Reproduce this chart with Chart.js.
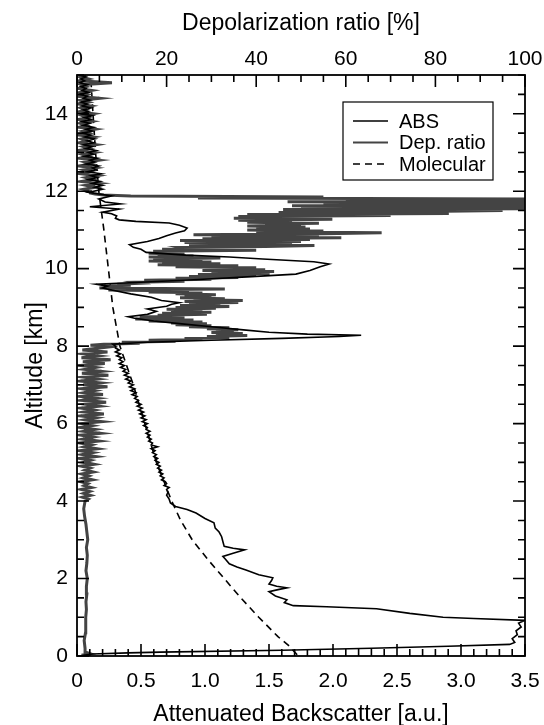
<!DOCTYPE html>
<html>
<head>
<meta charset="utf-8">
<script src="https://cdn.jsdelivr.net/npm/chart.js@4.4.1/dist/chart.umd.min.js"></script>
<style>
  html, body { margin: 0; padding: 0; background: #fff; }
  canvas { display: block; }
</style>
</head>
<body>
<canvas id="profile" width="544" height="725"></canvas>
<script>
// tick labels
const altTicks = [0, 2, 4, 6, 8, 10, 12, 14];
const absTicks = [0, 0.5, 1.0, 1.5, 2.0, 2.5, 3.0, 3.5];
const depTicks = [0, 20, 40, 60, 80, 100];

// attenuated backscatter (bottom axis) vs altitude [km]
const absAlt = [
  0.02, 0.05, 0.08, 0.10, 0.15, 0.20, 0.25, 0.30, 0.35, 0.45, 0.55, 0.65, 0.75, 0.85, 0.92,
  0.97, 1.00, 1.10, 1.22, 1.27, 1.30, 1.38, 1.45, 1.55, 1.66, 1.72, 1.76, 1.80, 1.86, 1.95,
  2.02, 2.10, 2.22, 2.30, 2.38, 2.50, 2.57, 2.65, 2.74, 2.78, 2.83, 2.95, 3.08, 3.20, 3.30,
  3.44, 3.55, 3.69, 3.78, 3.86, 3.95, 4.05, 4.15, 4.22,
  4.30, 4.35, 4.40, 4.45, 4.50, 4.55, 4.60, 4.65, 4.70, 4.75, 4.80, 4.85, 4.90, 4.95,
  5.00, 5.05, 5.10, 5.15, 5.20, 5.25, 5.30, 5.35, 5.40, 5.45, 5.50, 5.55, 5.60, 5.65,
  5.70, 5.75, 5.80, 5.85, 5.90, 5.95, 6.00, 6.05, 6.10, 6.15, 6.20, 6.25, 6.30, 6.35,
  6.40, 6.45, 6.50, 6.55, 6.60, 6.65, 6.70, 6.75, 6.80, 6.85, 6.90, 6.95, 7.00, 7.05,
  7.10, 7.15, 7.20, 7.25, 7.30, 7.35, 7.40, 7.45, 7.50, 7.55, 7.60, 7.65, 7.70, 7.75,
  7.80, 7.85, 7.90, 7.95, 8.00, 8.05,
  8.10, 8.15, 8.20, 8.25, 8.28, 8.31, 8.36, 8.42, 8.50, 8.58, 8.65, 8.72, 8.76, 8.82,
  8.90, 8.96, 9.03, 9.08, 9.12, 9.18, 9.26, 9.35, 9.45, 9.50, 9.55, 9.60, 9.65, 9.72,
  9.80, 9.86, 9.95, 10.05, 10.12, 10.18, 10.25, 10.30, 10.35, 10.42, 10.50, 10.55, 10.62,
  10.70, 10.78, 10.85, 10.92, 10.98, 11.05, 11.12, 11.18, 11.22, 11.26, 11.30, 11.36,
  11.42, 11.46, 11.54, 11.60, 11.67, 11.72, 11.80, 11.88, 11.97,
  12.05, 12.10, 12.15, 12.20, 12.25, 12.30, 12.35, 12.40, 12.45, 12.50, 12.55, 12.60,
  12.65, 12.70, 12.75, 12.80, 12.85, 12.90, 12.95, 13.00, 13.05, 13.10, 13.15, 13.20,
  13.25, 13.30, 13.35, 13.40, 13.45, 13.50, 13.55, 13.60, 13.65, 13.70, 13.75, 13.80,
  13.85, 13.90, 13.95, 14.00, 14.05, 14.10, 14.15, 14.20, 14.25, 14.30, 14.35, 14.40,
  14.45, 14.50, 14.55, 14.60, 14.65, 14.70, 14.75, 14.80, 14.85, 14.90, 14.95, 15.00
];
const absVal = [
  0.05, 0.12, 0.40, 0.65, 1.60, 2.30, 2.90, 3.38, 3.42, 3.40, 3.44, 3.43, 3.47, 3.45, 3.50,
  3.10, 2.86, 2.60, 2.34, 1.95, 1.69, 1.62, 1.64, 1.55, 1.50, 1.58, 1.64, 1.56, 1.50, 1.52,
  1.53, 1.42, 1.32, 1.25, 1.19, 1.16, 1.14, 1.22, 1.31, 1.22, 1.15, 1.14, 1.13, 1.11, 1.08,
  1.07, 1.00, 0.93, 0.86, 0.77, 0.73, 0.72, 0.70, 0.71,
  0.70, 0.72, 0.68, 0.70, 0.69, 0.66, 0.68, 0.65, 0.67, 0.64, 0.66, 0.63, 0.65, 0.62,
  0.64, 0.61, 0.63, 0.60, 0.62, 0.59, 0.61, 0.58, 0.63, 0.58, 0.59, 0.56, 0.58, 0.55,
  0.57, 0.54, 0.57, 0.54, 0.55, 0.52, 0.55, 0.51, 0.54, 0.50, 0.53, 0.49, 0.52, 0.48,
  0.51, 0.47, 0.50, 0.46, 0.48, 0.45, 0.47, 0.43, 0.46, 0.42, 0.45, 0.41, 0.44, 0.40,
  0.42, 0.38, 0.41, 0.37, 0.40, 0.36, 0.38, 0.34, 0.37, 0.33, 0.36, 0.33, 0.35, 0.31,
  0.34, 0.30, 0.33, 0.30, 0.30, 0.28,
  0.55, 1.05, 1.60, 2.05, 2.22, 1.80, 1.50, 1.30, 1.05, 0.80, 0.60, 0.45, 0.40, 0.55,
  0.62, 0.55, 0.70, 0.74, 0.80, 0.66, 0.58, 0.42, 0.27, 0.20, 0.24, 0.15, 0.50, 0.95,
  1.40, 1.71, 1.82, 1.90, 1.97, 1.85, 1.45, 1.19, 0.85, 0.54, 0.50, 0.44, 0.41,
  0.55, 0.64, 0.70, 0.77, 0.84, 0.86, 0.80, 0.72, 0.46, 0.33, 0.30, 0.31,
  0.27, 0.20, 0.33, 0.10, 0.34, 0.22, 0.17, 0.27, 0.09,
  0.20, 0.14, 0.20, 0.12, 0.18, 0.09, 0.16, 0.11, 0.19, 0.08, 0.15, 0.12, 0.17,
  0.07, 0.14, 0.10, 0.16, 0.06, 0.13, 0.09, 0.15, 0.07, 0.12, 0.05, 0.13,
  0.08, 0.14, 0.06, 0.11, 0.04, 0.12, 0.07, 0.13, 0.05, 0.10, 0.04, 0.11,
  0.06, 0.12, 0.03, 0.09, 0.05, 0.11, 0.04, 0.08, 0.03, 0.10, 0.05, 0.08,
  0.02, 0.09, 0.04, 0.07, 0.03, 0.08, 0.02, 0.06, 0.03, 0.07, 0.02, 0.05
];

// depolarization ratio [%] (top axis) vs altitude [km]
const depAlt = [
  0.02, 0.06, 0.10, 0.20, 0.40, 0.60, 0.80, 1.00, 1.20, 1.40, 1.60, 1.80, 2.00, 2.20,
  2.40, 2.60, 2.80, 3.00, 3.20, 3.40, 3.60, 3.80, 4.00,
  4.05, 4.10, 4.15, 4.20, 4.25, 4.30, 4.35, 4.40, 4.45, 4.50, 4.55, 4.60, 4.65, 4.70,
  4.75, 4.80, 4.85, 4.90, 4.95, 5.00, 5.05, 5.10, 5.15, 5.20, 5.25, 5.30, 5.35, 5.40,
  5.45, 5.50, 5.55, 5.60, 5.65, 5.70, 5.75, 5.80, 5.85, 5.90, 5.95, 6.00, 6.05, 6.10,
  6.15, 6.20, 6.25, 6.30, 6.35, 6.40, 6.45, 6.50, 6.55, 6.60, 6.65, 6.70, 6.75, 6.80,
  6.85, 6.90, 6.95, 7.00, 7.05, 7.10, 7.15, 7.20, 7.25, 7.30, 7.35, 7.40, 7.45, 7.50,
  7.55, 7.60, 7.65, 7.70, 7.75, 7.80, 7.85, 7.90, 7.95, 8.00, 8.025,
  8.050, 8.075, 8.100, 8.125, 8.150, 8.175, 8.200, 8.225, 8.250, 8.275, 8.300, 8.325,
  8.350, 8.375, 8.400, 8.425, 8.450, 8.475, 8.500, 8.525, 8.550, 8.575, 8.600, 8.625,
  8.650, 8.675, 8.700, 8.725, 8.750, 8.775, 8.800, 8.825, 8.850, 8.875, 8.900, 8.925,
  8.950, 8.975, 9.000, 9.025, 9.050, 9.075, 9.100, 9.125, 9.150, 9.175, 9.200, 9.225,
  9.250, 9.275, 9.300, 9.325, 9.350, 9.375, 9.400, 9.425, 9.450, 9.475, 9.500, 9.525,
  9.550, 9.575, 9.600, 9.625, 9.650, 9.675, 9.700, 9.725, 9.750, 9.775, 9.800, 9.825,
  9.850, 9.875, 9.900, 9.925, 9.950, 9.975, 10.000, 10.025, 10.050, 10.075, 10.100, 10.125,
  10.150, 10.175, 10.200, 10.225, 10.250, 10.275, 10.300, 10.325, 10.350, 10.375, 10.400, 10.425,
  10.450, 10.475, 10.500, 10.525, 10.550, 10.575, 10.600, 10.625, 10.650, 10.675, 10.700, 10.725,
  10.750, 10.775, 10.800, 10.825, 10.850, 10.875, 10.900, 10.925, 10.950, 10.975, 11.000, 11.025,
  11.050, 11.075, 11.100, 11.125, 11.150, 11.175, 11.200, 11.225, 11.250, 11.275, 11.300, 11.325,
  11.350, 11.375, 11.400, 11.425, 11.450, 11.475, 11.500, 11.525, 11.550, 11.575, 11.600, 11.625,
  11.650, 11.675, 11.700, 11.725, 11.750, 11.775, 11.800, 11.825, 11.850, 11.875, 11.900, 11.925,
  11.950,
  12.00, 12.05, 12.10, 12.15, 12.20, 12.25, 12.30, 12.35, 12.40, 12.45, 12.50, 12.55,
  12.60, 12.65, 12.70, 12.75, 12.80, 12.85, 12.90, 12.95, 13.00, 13.05, 13.10, 13.15,
  13.20, 13.25, 13.30, 13.35, 13.40, 13.45, 13.50, 13.55, 13.60, 13.65, 13.70, 13.75,
  13.80, 13.85, 13.90, 13.95, 14.00, 14.05, 14.10, 14.15, 14.20, 14.25, 14.30, 14.35,
  14.40, 14.45, 14.50, 14.55, 14.60, 14.65, 14.70, 14.75, 14.80, 14.85, 14.90, 14.95, 15.00
];
const depVal = [
  1.0, 3.0, 2.0, 1.8, 1.6, 1.9, 2.0, 1.9, 2.1, 2.0, 2.2, 2.1, 2.3, 2.0,
  2.2, 2.3, 2.1, 2.4, 2.2, 2.0, 1.7, 1.5, 1.8,
  2.5, 1.2, 3.0, 1.5, 2.8, 1.0, 3.2, 1.6, 2.4, 0.8, 3.4, 1.4, 2.6, 1.0,
  3.6, 1.8, 2.9, 0.9, 3.8, 1.5, 3.0, 0.7, 4.2, 1.2, 3.5, 0.8, 4.5, 1.6,
  3.2, 0.6, 4.8, 1.3, 3.6, 0.9, 5.2, 1.5, 4.0, 0.7, 3.4, 1.2, 5.6, 1.8,
  4.2, 0.8, 6.0, 1.5, 3.8, 1.0, 5.0, 2.0, 6.5, 1.2, 4.5, 0.9, 5.8, 1.6,
  3.9, 1.0, 6.8, 1.4, 5.2, 0.8, 4.6, 1.5, 7.0, 1.1, 5.5, 1.8, 4.2, 0.9,
  6.2, 1.3, 7.5, 1.0, 4.8, 1.6, 6.8, 1.2, 5.0, 9.0, 3.0,
  6, 14, 10, 22, 16, 28, 24, 34, 29, 38, 31, 37,
  30, 35, 31, 36, 29, 34, 25, 30, 22, 29, 21, 28,
  16, 26, 13, 24, 14, 22, 18, 29, 19, 30, 21, 28,
  20, 31, 22, 34, 23, 32, 25, 36, 24, 37, 26, 33,
  23, 30, 24, 31, 22, 28, 16, 25, 7, 33, 5, 8,
  6, 12, 9, 14, 13, 24, 15, 30, 22, 36, 25, 40,
  27, 43, 30, 44, 28, 42, 33, 40, 22, 36, 18, 32,
  19, 30, 16, 28, 17, 32, 16, 26, 18, 24, 16, 22,
  17, 40, 19, 24, 23, 42, 53, 25, 48, 24, 50, 23,
  52, 28, 59, 30, 54, 26, 55, 68, 40, 55, 38, 52,
  40, 51, 38, 50, 42, 54, 38, 48, 36, 57, 35, 52,
  36, 70, 38, 83, 45, 78, 95, 46, 100, 50, 100, 48,
  100, 55, 100, 47, 100, 60, 100, 27, 55, 12, 6, 4,
  3,
  3.0, 1.5, 4.0, 2.0, 5.0, 1.0, 3.5, 2.0, 4.5, 0.8, 3.0, 1.5,
  4.0, 0.5, 3.2, 1.8, 4.8, 0.6, 2.5, 1.2, 3.8, 0.4, 2.8, 1.5,
  4.2, 0.5, 2.2, 1.0, 3.5, 0.3, 2.6, 1.4, 4.0, 0.5, 2.0, 0.8,
  3.2, 0.3, 2.4, 1.2, 3.6, 0.4, 2.0, 0.9, 3.0, 0.3, 2.5, 1.0,
  5.0, 0.4, 2.2, 0.8, 3.2, 0.3, 2.0, 1.0, 7.8, 0.5, 2.5, 0.8, 2.0
];

// molecular backscatter (bottom axis)
const molAlt = [0.03, 0.25, 0.5, 1.0, 1.5, 2.0, 2.5, 3.0, 3.5, 4.0, 5.0, 6.0, 7.0, 8.0,
  9.0, 10.0, 11.0, 12.0, 13.0, 14.0, 14.8];
const molVal = [1.72, 1.66, 1.57, 1.42, 1.28, 1.15, 1.02, 0.90, 0.81, 0.74, 0.62, 0.53,
  0.44, 0.335, 0.28, 0.245, 0.21, 0.17, 0.145, 0.125, 0.11];

const FONT = "'Liberation Sans', Arial, sans-serif";

function pts(alt, val) {
  return alt.map((a, i) => ({ x: val[i], y: a }));
}

// inward ticks on all four sides + frame
const frameTicks = {
  id: 'frameTicks',
  afterDraw(chart) {
    const c = chart.ctx;
    const a = chart.chartArea;
    const sx = chart.scales.x, sx2 = chart.scales.x2, sy = chart.scales.y;
    c.save();
    c.strokeStyle = '#000';
    c.lineWidth = 1.6;
    c.beginPath();
    // y, left and right
    for (let k = 0; k <= 30; k++) {
      const y = sy.getPixelForValue(k * 0.5);
      const len = (k % 4 === 0) ? 12 : 7;
      c.moveTo(a.left, y); c.lineTo(a.left + len, y);
      c.moveTo(a.right, y); c.lineTo(a.right - len, y);
    }
    // bottom axis
    for (let k = 0; k <= 35; k++) {
      const x = sx.getPixelForValue(k * 0.1);
      const len = (k % 5 === 0) ? 12 : 7;
      c.moveTo(x, a.bottom); c.lineTo(x, a.bottom - len);
    }
    // top axis
    for (let k = 0; k <= 20; k++) {
      const x = sx2.getPixelForValue(k * 5);
      const len = (k % 4 === 0) ? 12 : 7;
      c.moveTo(x, a.top); c.lineTo(x, a.top + len);
    }
    c.stroke();
    c.lineWidth = 1.8;
    c.strokeRect(a.left, a.top, a.right - a.left, a.bottom - a.top);
    c.restore();
  }
};

// boxed legend inside the plot, top right
const boxLegend = {
  id: 'boxLegend',
  afterDraw(chart) {
    const c = chart.ctx;
    const a = chart.chartArea;
    const bx = a.right - 182, by = a.top + 27, bw = 150, bh = 78;
    c.save();
    c.fillStyle = '#fff';
    c.fillRect(bx, by, bw, bh);
    c.strokeStyle = '#000';
    c.lineWidth = 1.2;
    c.strokeRect(bx, by, bw, bh);
    c.font = '20px ' + FONT;
    c.textBaseline = 'middle';
    c.fillStyle = '#000';
    chart.data.datasets.forEach((ds, i) => {
      const y = by + 19 + i * 21.5;
      c.strokeStyle = ds.borderColor;
      c.lineWidth = Math.min(ds.borderWidth, 2);
      c.setLineDash(ds.borderDash || []);
      c.beginPath();
      c.moveTo(bx + 10, y); c.lineTo(bx + 45, y);
      c.stroke();
      c.setLineDash([]);
      c.fillText(ds.label, bx + 56, y + 1);
    });
    c.restore();
  }
};

function fixTicks(arr) {
  return function (scale) { scale.ticks = arr.map(v => ({ value: v })); };
}

new Chart(document.getElementById('profile').getContext('2d'), {
  type: 'scatter',
  data: {
    datasets: [
      {
        label: 'ABS',
        data: pts(absAlt, absVal),
        xAxisID: 'x', yAxisID: 'y',
        showLine: true, pointRadius: 0,
        borderColor: '#000', borderWidth: 1.6
      },
      {
        label: 'Dep. ratio',
        data: pts(depAlt, depVal),
        xAxisID: 'x2', yAxisID: 'y',
        showLine: true, pointRadius: 0,
        borderColor: '#444', borderWidth: 3
      },
      {
        label: 'Molecular',
        data: pts(molAlt, molVal),
        xAxisID: 'x', yAxisID: 'y',
        showLine: true, pointRadius: 0,
        borderColor: '#000', borderWidth: 1.6,
        borderDash: [7, 5]
      }
    ]
  },
  options: {
    responsive: false,
    animation: false,
    devicePixelRatio: 1,
    layout: { padding: { left: 0, right: 19, top: 0, bottom: 0 } },
    plugins: {
      legend: { display: false },
      tooltip: { enabled: false }
    },
    elements: { line: { tension: 0 } },
    scales: {
      x: {
        type: 'linear', position: 'bottom', min: 0, max: 3.5,
        afterBuildTicks: fixTicks(absTicks),
        afterFit(s) { s.height = 69; s.paddingLeft = 0; s.paddingRight = 0; },
        grid: { display: false, drawTicks: false },
        border: { display: false },
        ticks: {
          padding: 13, color: '#000', font: { family: FONT, size: 21 },
          callback: v => v === 0 ? '0' : v.toFixed(1)
        },
        title: {
          display: true, text: 'Attenuated Backscatter [a.u.]', color: '#000',
          font: { family: FONT, size: 23 }, padding: { top: 0, bottom: -3 }
        }
      },
      x2: {
        type: 'linear', position: 'top', min: 0, max: 100,
        afterBuildTicks: fixTicks(depTicks),
        afterFit(s) { s.height = 75; s.paddingLeft = 0; s.paddingRight = 0; },
        grid: { display: false, drawTicks: false },
        border: { display: false },
        ticks: { padding: 3, color: '#000', font: { family: FONT, size: 21 } },
        title: {
          display: true, text: 'Depolarization ratio [%]', color: '#000',
          font: { family: FONT, size: 23 }, padding: { top: 10, bottom: 0 }
        }
      },
      y: {
        type: 'linear', position: 'left', min: 0, max: 15,
        afterBuildTicks: fixTicks(altTicks),
        afterFit(s) { s.width = 77; s.paddingTop = 0; s.paddingBottom = 0; },
        grid: { display: false, drawTicks: false },
        border: { display: false },
        ticks: { padding: 9, color: '#000', font: { family: FONT, size: 21 } },
        title: {
          display: true, text: 'Altitude [km]', color: '#000',
          font: { family: FONT, size: 23 }, padding: { top: 22, bottom: 0 }
        }
      }
    }
  },
  plugins: [frameTicks, boxLegend]
});
</script>
</body>
</html>
